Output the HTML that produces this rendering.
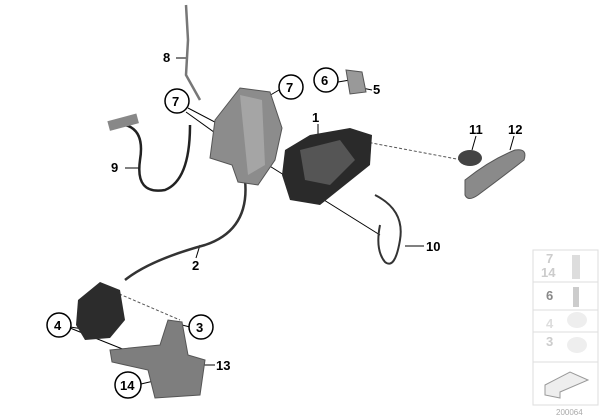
<!DOCTYPE html>
<html><head><style>
html,body{margin:0;padding:0;background:#fff;width:600px;height:420px;overflow:hidden}
svg text{font-family:"Liberation Sans",sans-serif;font-weight:bold;font-size:13px;fill:#000}
</style></head><body>
<svg width="600" height="420" viewBox="0 0 600 420">
<g stroke="#000" stroke-width="1" fill="none">
 <line x1="176" y1="58" x2="188" y2="58"/>
 <line x1="279" y1="90" x2="262" y2="100"/>
 <line x1="188" y1="108" x2="230" y2="130"/>
 <line x1="186" y1="112" x2="225" y2="140"/>
 <line x1="338" y1="82" x2="350" y2="80"/>
 <line x1="362" y1="88" x2="372" y2="90"/>
 <line x1="318" y1="124" x2="318" y2="142"/>
 <line x1="476" y1="136" x2="472" y2="150"/>
 <line x1="514" y1="136" x2="510" y2="150"/>
 <line x1="125" y1="168" x2="140" y2="168"/>
 <line x1="196" y1="258" x2="200" y2="245"/>
 <line x1="405" y1="246" x2="424" y2="246"/>
 <line x1="70" y1="327" x2="90" y2="330"/>
 <line x1="70" y1="328" x2="150" y2="360"/>
 <line x1="190" y1="327" x2="170" y2="322"/>
 <line x1="203" y1="365" x2="215" y2="365"/>
 <line x1="141" y1="384" x2="158" y2="380"/>
 <line x1="260" y1="160" x2="380" y2="235"/>
</g>
<g stroke="#555" stroke-width="1" stroke-dasharray="3,2" fill="none">
 <line x1="345" y1="138" x2="462" y2="160"/>
 <line x1="110" y1="290" x2="180" y2="320"/>
</g>
<path d="M186 5 L188 40 L186 75 L200 100" stroke="#777" stroke-width="2.5" fill="none"/>
<path d="M125 125 Q145 130 140 160 Q135 195 165 190 Q190 180 190 125" stroke="#222" stroke-width="2.5" fill="none"/>
<rect x="108" y="118" width="30" height="10" fill="#888" transform="rotate(-15 120 122)"/>
<path d="M245 180 Q250 230 205 245 Q150 260 125 280" stroke="#333" stroke-width="2.5" fill="none"/>
<path d="M375 195 Q405 210 400 240 Q395 270 385 262 Q375 250 380 225" stroke="#333" stroke-width="2" fill="none"/>
<path d="M215 120 L240 88 L270 92 L282 128 L275 160 L258 185 L238 182 L232 165 L210 158 Z" fill="#8c8c8c" stroke="#555"/>
<path d="M240 95 L262 100 L265 165 L248 175 Z" fill="#a5a5a5"/>
<path d="M285 150 L310 135 L350 128 L372 135 L370 165 L345 185 L320 205 L290 200 L282 175 Z" fill="#2a2a2a"/>
<path d="M300 150 L340 140 L355 160 L330 185 L305 180 Z" fill="#555"/>
<path d="M346 70 L362 72 L366 92 L350 94 Z" fill="#999" stroke="#555"/>
<ellipse cx="470" cy="158" rx="12" ry="8" fill="#444"/>
<path d="M465 180 Q490 160 515 150 Q528 148 524 160 Q505 175 478 195 Q468 202 465 195 Z" fill="#8a8a8a" stroke="#555"/>
<path d="M78 300 L100 282 L120 290 L125 320 L110 338 L85 340 L76 325 Z" fill="#2c2c2c"/>
<path d="M110 350 L160 345 L168 320 L182 322 L188 355 L205 360 L200 395 L155 398 L148 370 L112 362 Z" fill="#7e7e7e" stroke="#555"/>
<text x="163" y="62">8</text>
<circle cx="291" cy="87" r="12" fill="#fff" stroke="#000" stroke-width="1.5"/><text x="286" y="92">7</text>
<circle cx="177" cy="101" r="12" fill="#fff" stroke="#000" stroke-width="1.5"/><text x="172" y="106">7</text>
<circle cx="326" cy="80" r="12" fill="#fff" stroke="#000" stroke-width="1.5"/><text x="321" y="85">6</text>
<text x="373" y="94">5</text>
<text x="312" y="122">1</text>
<text x="469" y="134">11</text>
<text x="508" y="134">12</text>
<text x="111" y="172">9</text>
<text x="192" y="270">2</text>
<text x="426" y="251">10</text>
<circle cx="59" cy="325" r="12" fill="#fff" stroke="#000" stroke-width="1.5"/><text x="54" y="330">4</text>
<circle cx="201" cy="327" r="12" fill="#fff" stroke="#000" stroke-width="1.5"/><text x="196" y="332">3</text>
<text x="216" y="370">13</text>
<circle cx="128" cy="385" r="13" fill="#fff" stroke="#000" stroke-width="1.5"/><text x="120" y="390">14</text>
<g stroke="#ddd" fill="none">
 <rect x="533" y="250" width="65" height="155"/>
 <line x1="533" y1="282" x2="598" y2="282"/>
 <line x1="533" y1="310" x2="598" y2="310"/>
 <line x1="533" y1="332" x2="598" y2="332"/>
 <line x1="533" y1="362" x2="598" y2="362"/>
</g>
<g style="font-size:12px">
<text x="546" y="263" style="fill:#ccc">7</text>
<text x="541" y="277" style="fill:#ccc">14</text>
<text x="546" y="300" style="fill:#888">6</text>
<text x="546" y="328" style="fill:#ddd">4</text>
<text x="546" y="346" style="fill:#ccc">3</text>
</g>
<rect x="572" y="255" width="8" height="24" fill="#ddd"/>
<rect x="573" y="287" width="6" height="20" fill="#ccc"/>
<ellipse cx="577" cy="320" rx="10" ry="8" fill="#eee"/>
<ellipse cx="577" cy="345" rx="10" ry="8" fill="#eee"/>
<path d="M545 385 L570 372 L588 380 L560 392 L560 398 L545 395 Z" fill="#eee" stroke="#999"/>
<text x="556" y="415" style="font-size:8px;font-weight:normal;fill:#aaa">200064</text>
</svg>
</body></html>
